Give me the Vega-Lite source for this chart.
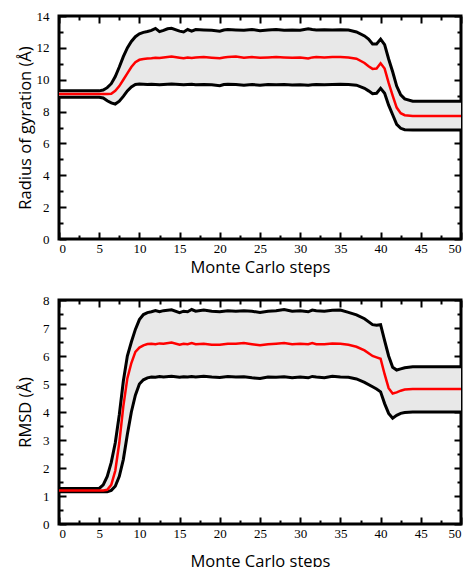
{
  "$schema": "https://vega.github.io/schema/vega-lite/v6.json",
  "padding": {"left": 15, "top": 8, "right": 5, "bottom": 0},
  "spacing": 15,
  "config": {
    "view": {"stroke": "black", "strokeWidth": 3},
    "axis": {
      "domain": false, "grid": false,
      "tickColor": "black", "tickWidth": 2, "tickSize": -7,
      "labelFont": "Liberation Serif", "labelFontSize": 13, "labelColor": "black",
      "titleFont": "Open Sans", "titleFontSize": 16.5, "titleFontWeight": "normal", "titleColor": "black"
    }
  },
  "datasets": {
    "rg": [
      {"step": 0, "lower": 8.9, "mean": 9.1, "upper": 9.3},
      {"step": 5, "lower": 8.9, "mean": 9.1, "upper": 9.3},
      {"step": 5.5, "lower": 8.85, "mean": 9.1, "upper": 9.35},
      {"step": 6, "lower": 8.68, "mean": 9.1, "upper": 9.5},
      {"step": 6.5, "lower": 8.55, "mean": 9.12, "upper": 9.75},
      {"step": 7, "lower": 8.47, "mean": 9.3, "upper": 10.2},
      {"step": 7.5, "lower": 8.65, "mean": 9.6, "upper": 10.8},
      {"step": 8, "lower": 8.95, "mean": 10.0, "upper": 11.45},
      {"step": 8.5, "lower": 9.3, "mean": 10.4, "upper": 12.0},
      {"step": 9, "lower": 9.55, "mean": 10.8, "upper": 12.4},
      {"step": 9.5, "lower": 9.7, "mean": 11.1, "upper": 12.7},
      {"step": 10, "lower": 9.73, "mean": 11.25, "upper": 12.88},
      {"step": 10.5, "lower": 9.72, "mean": 11.3, "upper": 12.97},
      {"step": 11, "lower": 9.7, "mean": 11.33, "upper": 13.03},
      {"step": 11.5, "lower": 9.72, "mean": 11.35, "upper": 13.1},
      {"step": 12, "lower": 9.7, "mean": 11.38, "upper": 13.22},
      {"step": 12.5, "lower": 9.68, "mean": 11.37, "upper": 13.02},
      {"step": 13, "lower": 9.7, "mean": 11.4, "upper": 13.1},
      {"step": 13.5, "lower": 9.72, "mean": 11.43, "upper": 13.2},
      {"step": 14, "lower": 9.73, "mean": 11.45, "upper": 13.23},
      {"step": 15, "lower": 9.7, "mean": 11.38, "upper": 13.05},
      {"step": 15.5, "lower": 9.68, "mean": 11.35, "upper": 13.0},
      {"step": 16, "lower": 9.7, "mean": 11.4, "upper": 13.15},
      {"step": 16.5, "lower": 9.72, "mean": 11.37, "upper": 13.05},
      {"step": 17, "lower": 9.68, "mean": 11.4, "upper": 13.15},
      {"step": 18, "lower": 9.7, "mean": 11.42, "upper": 13.12},
      {"step": 19, "lower": 9.68, "mean": 11.38, "upper": 13.1},
      {"step": 20, "lower": 9.62, "mean": 11.35, "upper": 13.05},
      {"step": 20.5, "lower": 9.7, "mean": 11.4, "upper": 13.12},
      {"step": 21, "lower": 9.72, "mean": 11.42, "upper": 13.15},
      {"step": 22, "lower": 9.7, "mean": 11.45, "upper": 13.12},
      {"step": 23, "lower": 9.66, "mean": 11.38, "upper": 13.1},
      {"step": 24, "lower": 9.7, "mean": 11.42, "upper": 13.15},
      {"step": 25, "lower": 9.66, "mean": 11.38, "upper": 13.08},
      {"step": 26, "lower": 9.7, "mean": 11.4, "upper": 13.12},
      {"step": 27, "lower": 9.68, "mean": 11.42, "upper": 13.15},
      {"step": 28, "lower": 9.7, "mean": 11.4, "upper": 13.1},
      {"step": 29, "lower": 9.67, "mean": 11.38, "upper": 13.12},
      {"step": 30, "lower": 9.68, "mean": 11.4, "upper": 13.1},
      {"step": 31, "lower": 9.65, "mean": 11.33, "upper": 13.2},
      {"step": 31.5, "lower": 9.68, "mean": 11.4, "upper": 13.15},
      {"step": 32, "lower": 9.7, "mean": 11.42, "upper": 13.12},
      {"step": 33, "lower": 9.68, "mean": 11.4, "upper": 13.13},
      {"step": 34, "lower": 9.7, "mean": 11.42, "upper": 13.12},
      {"step": 35, "lower": 9.72, "mean": 11.42, "upper": 13.13},
      {"step": 36, "lower": 9.7, "mean": 11.4, "upper": 13.12},
      {"step": 37, "lower": 9.66, "mean": 11.32, "upper": 13.0},
      {"step": 38, "lower": 9.46, "mean": 11.05, "upper": 12.75},
      {"step": 38.5, "lower": 9.3, "mean": 10.85, "upper": 12.55},
      {"step": 39, "lower": 9.12, "mean": 10.68, "upper": 12.25},
      {"step": 39.5, "lower": 9.15, "mean": 10.7, "upper": 12.25},
      {"step": 40, "lower": 9.46, "mean": 11.03, "upper": 12.55},
      {"step": 40.5, "lower": 9.15, "mean": 10.7, "upper": 12.2},
      {"step": 41, "lower": 8.4, "mean": 9.8, "upper": 11.3},
      {"step": 41.5, "lower": 7.8, "mean": 9.0, "upper": 10.5},
      {"step": 42, "lower": 7.2, "mean": 8.25, "upper": 9.6},
      {"step": 42.5, "lower": 6.95, "mean": 7.9, "upper": 9.05},
      {"step": 43, "lower": 6.86, "mean": 7.77, "upper": 8.8},
      {"step": 44, "lower": 6.84, "mean": 7.72, "upper": 8.65},
      {"step": 50, "lower": 6.84, "mean": 7.72, "upper": 8.65}
    ],
    "rmsd": [
      {"step": 0, "lower": 1.15, "mean": 1.2, "upper": 1.27},
      {"step": 5, "lower": 1.15, "mean": 1.2, "upper": 1.27},
      {"step": 5.5, "lower": 1.15, "mean": 1.2, "upper": 1.4},
      {"step": 6, "lower": 1.15, "mean": 1.22, "upper": 1.7},
      {"step": 6.5, "lower": 1.2, "mean": 1.4, "upper": 2.2},
      {"step": 7, "lower": 1.35, "mean": 1.9, "upper": 2.9},
      {"step": 7.5, "lower": 1.7, "mean": 2.9, "upper": 3.9},
      {"step": 8, "lower": 2.3, "mean": 4.2, "upper": 5.1},
      {"step": 8.5, "lower": 3.2, "mean": 5.2, "upper": 6.0},
      {"step": 9, "lower": 4.0, "mean": 5.75, "upper": 6.5},
      {"step": 9.5, "lower": 4.6, "mean": 6.15, "upper": 6.95},
      {"step": 10, "lower": 5.0, "mean": 6.3, "upper": 7.3},
      {"step": 10.5, "lower": 5.15, "mean": 6.38, "upper": 7.48},
      {"step": 11, "lower": 5.22, "mean": 6.43, "upper": 7.55},
      {"step": 11.5, "lower": 5.25, "mean": 6.44, "upper": 7.58},
      {"step": 12, "lower": 5.24, "mean": 6.42, "upper": 7.62},
      {"step": 12.5, "lower": 5.27, "mean": 6.45, "upper": 7.58},
      {"step": 13, "lower": 5.25, "mean": 6.44, "upper": 7.62},
      {"step": 14, "lower": 5.28, "mean": 6.48, "upper": 7.65},
      {"step": 15, "lower": 5.24, "mean": 6.4, "upper": 7.55},
      {"step": 15.5, "lower": 5.26, "mean": 6.44, "upper": 7.6},
      {"step": 16, "lower": 5.25, "mean": 6.42, "upper": 7.58},
      {"step": 16.5, "lower": 5.27, "mean": 6.46, "upper": 7.66},
      {"step": 17, "lower": 5.25, "mean": 6.42, "upper": 7.6},
      {"step": 18, "lower": 5.28, "mean": 6.44, "upper": 7.64},
      {"step": 19, "lower": 5.25, "mean": 6.4, "upper": 7.6},
      {"step": 20, "lower": 5.23, "mean": 6.4, "upper": 7.58},
      {"step": 21, "lower": 5.27, "mean": 6.44, "upper": 7.62},
      {"step": 22, "lower": 5.25, "mean": 6.44, "upper": 7.6},
      {"step": 23, "lower": 5.26, "mean": 6.46, "upper": 7.62},
      {"step": 24, "lower": 5.22, "mean": 6.42, "upper": 7.6},
      {"step": 25, "lower": 5.2, "mean": 6.38, "upper": 7.55},
      {"step": 26, "lower": 5.25, "mean": 6.42, "upper": 7.6},
      {"step": 27, "lower": 5.24, "mean": 6.44, "upper": 7.62},
      {"step": 28, "lower": 5.26, "mean": 6.46, "upper": 7.66},
      {"step": 29, "lower": 5.22, "mean": 6.42, "upper": 7.6},
      {"step": 30, "lower": 5.25, "mean": 6.44, "upper": 7.62},
      {"step": 31, "lower": 5.22, "mean": 6.42, "upper": 7.58},
      {"step": 31.5, "lower": 5.27, "mean": 6.46, "upper": 7.64},
      {"step": 32, "lower": 5.25, "mean": 6.42, "upper": 7.62},
      {"step": 33, "lower": 5.22, "mean": 6.42, "upper": 7.6},
      {"step": 34, "lower": 5.28, "mean": 6.45, "upper": 7.63},
      {"step": 35, "lower": 5.25, "mean": 6.44, "upper": 7.64},
      {"step": 36, "lower": 5.24, "mean": 6.4, "upper": 7.56},
      {"step": 37, "lower": 5.18, "mean": 6.33, "upper": 7.47},
      {"step": 38, "lower": 5.06, "mean": 6.2, "upper": 7.33},
      {"step": 39, "lower": 4.9, "mean": 6.0, "upper": 7.12},
      {"step": 39.5, "lower": 4.82, "mean": 5.95, "upper": 7.1},
      {"step": 40, "lower": 4.72, "mean": 5.9, "upper": 7.12},
      {"step": 40.5, "lower": 4.3, "mean": 5.35, "upper": 6.55},
      {"step": 41, "lower": 3.95, "mean": 4.85, "upper": 6.0},
      {"step": 41.5, "lower": 3.78, "mean": 4.66, "upper": 5.6},
      {"step": 42, "lower": 3.88, "mean": 4.7, "upper": 5.5},
      {"step": 42.5, "lower": 3.95, "mean": 4.76, "upper": 5.54},
      {"step": 43, "lower": 3.98, "mean": 4.8, "upper": 5.58},
      {"step": 44, "lower": 4.0, "mean": 4.82, "upper": 5.62},
      {"step": 50, "lower": 4.0, "mean": 4.82, "upper": 5.62}
    ]
  },
  "vconcat": [
    {
      "width": 402, "height": 223,
      "data": {"name": "rg"},
      "layer": [
        {
          "mark": {"type": "area", "color": "#e8e8e8"},
          "encoding": {
            "x": {"field": "step", "type": "quantitative", "scale": {"domain": [0, 50], "nice": false},
                  "axis": {"orient": "bottom", "title": "Monte Carlo steps", "values": [0,5,10,15,20,25,30,35,40,45,50], "format": "d", "labelPadding": 10, "titlePadding": 4}},
            "y": {"field": "lower", "type": "quantitative", "scale": {"domain": [0, 14], "nice": false},
                  "axis": {"orient": "left", "title": "Radius of gyration  (Å)", "values": [0,2,4,6,8,10,12,14], "format": "d", "labelPadding": 17, "titlePadding": 3}},
            "y2": {"field": "upper"}
          }
        },
        {
          "mark": {"type": "line", "color": "black", "strokeWidth": 3},
          "encoding": {
            "x": {"field": "step", "type": "quantitative", "axis": {"orient": "bottom", "title": null, "labels": false, "tickSize": -4, "values": [2.5,7.5,12.5,17.5,22.5,27.5,32.5,37.5,42.5,47.5]}},
            "y": {"field": "upper", "type": "quantitative", "axis": {"orient": "left", "title": null, "labels": false, "tickSize": -4, "values": [1,3,5,7,9,11,13]}}
          }
        },
        {
          "mark": {"type": "line", "color": "black", "strokeWidth": 3},
          "encoding": {
            "x": {"field": "step", "type": "quantitative", "axis": {"orient": "top", "title": null, "labels": false, "values": [0,5,10,15,20,25,30,35,40,45,50]}},
            "y": {"field": "lower", "type": "quantitative", "axis": {"orient": "right", "title": null, "labels": false, "values": [0,2,4,6,8,10,12,14]}}
          }
        },
        {
          "mark": {"type": "line", "color": "#ff0000", "strokeWidth": 2.5},
          "encoding": {
            "x": {"field": "step", "type": "quantitative", "axis": {"orient": "top", "title": null, "labels": false, "tickSize": -4, "values": [2.5,7.5,12.5,17.5,22.5,27.5,32.5,37.5,42.5,47.5]}},
            "y": {"field": "mean", "type": "quantitative", "axis": {"orient": "right", "title": null, "labels": false, "tickSize": -4, "values": [1,3,5,7,9,11,13]}}
          }
        }
      ],
      "resolve": {"axis": {"x": "independent", "y": "independent"}}
    },
    {
      "width": 402, "height": 224,
      "data": {"name": "rmsd"},
      "layer": [
        {
          "mark": {"type": "area", "color": "#e8e8e8"},
          "encoding": {
            "x": {"field": "step", "type": "quantitative", "scale": {"domain": [0, 50], "nice": false},
                  "axis": {"orient": "bottom", "title": "Monte Carlo steps", "values": [0,5,10,15,20,25,30,35,40,45,50], "format": "d", "labelPadding": 10, "titlePadding": 13}},
            "y": {"field": "lower", "type": "quantitative", "scale": {"domain": [0, 8], "nice": false},
                  "axis": {"orient": "left", "title": "RMSD (Å)", "values": [0,1,2,3,4,5,6,7,8], "format": "d", "labelPadding": 17, "titlePadding": 9}},
            "y2": {"field": "upper"}
          }
        },
        {
          "mark": {"type": "line", "color": "black", "strokeWidth": 3},
          "encoding": {
            "x": {"field": "step", "type": "quantitative", "axis": {"orient": "bottom", "title": null, "labels": false, "tickSize": -4, "values": [2.5,7.5,12.5,17.5,22.5,27.5,32.5,37.5,42.5,47.5]}},
            "y": {"field": "upper", "type": "quantitative", "axis": {"orient": "left", "title": null, "labels": false, "tickSize": -4, "values": [0.5,1.5,2.5,3.5,4.5,5.5,6.5,7.5]}}
          }
        },
        {
          "mark": {"type": "line", "color": "black", "strokeWidth": 3},
          "encoding": {
            "x": {"field": "step", "type": "quantitative", "axis": {"orient": "top", "title": null, "labels": false, "values": [0,5,10,15,20,25,30,35,40,45,50]}},
            "y": {"field": "lower", "type": "quantitative", "axis": {"orient": "right", "title": null, "labels": false, "values": [0,1,2,3,4,5,6,7,8]}}
          }
        },
        {
          "mark": {"type": "line", "color": "#ff0000", "strokeWidth": 2.5},
          "encoding": {
            "x": {"field": "step", "type": "quantitative", "axis": {"orient": "top", "title": null, "labels": false, "tickSize": -4, "values": [2.5,7.5,12.5,17.5,22.5,27.5,32.5,37.5,42.5,47.5]}},
            "y": {"field": "mean", "type": "quantitative", "axis": {"orient": "right", "title": null, "labels": false, "tickSize": -4, "values": [0.5,1.5,2.5,3.5,4.5,5.5,6.5,7.5]}}
          }
        }
      ],
      "resolve": {"axis": {"x": "independent", "y": "independent"}}
    }
  ]
}
